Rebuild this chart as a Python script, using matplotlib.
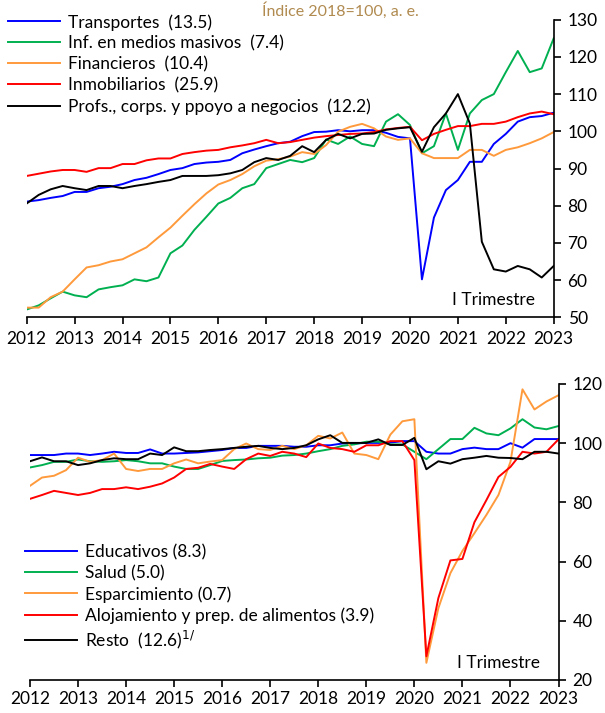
import numpy as np
import matplotlib
matplotlib.use("Agg")
import matplotlib.pyplot as plt

plt.rcParams['font.family'] = ['Lato', 'DejaVu Sans']

# quarterly dates, 2012 Q1 .. 2023 Q1
quarters = 2012 + np.arange(45) / 4
years = list(range(2012, 2024))

# ---- top panel series ----
transportes = [81.1, 81.5, 82.1, 82.6, 83.7, 83.7, 84.7, 85.1, 85.8, 86.9, 87.5, 88.5, 89.6, 90.1, 91.2, 91.6,
               91.8, 92.3, 94.1, 95.1, 96.0, 96.8, 97.2, 98.7, 99.8, 99.9, 100.3, 100.0, 100.3, 100.3,
               99.6, 98.5, 98.1, 60.2, 76.8, 84.2, 86.9, 91.8, 91.8, 96.6, 99.3, 102.6, 103.8, 104.1, 105.0]
medios = [52.1, 53.2, 55.1, 56.9, 55.9, 55.4, 57.5, 58.1, 58.6, 60.2, 59.7, 60.7, 67.2, 69.3, 73.5, 77.0,
          80.6, 82.1, 84.7, 85.8, 90.1, 91.2, 92.3, 91.7, 92.8, 97.8, 96.6, 98.6, 96.6, 96.0,
          102.6, 104.6, 101.7, 94.1, 96.0, 104.8, 95.0, 104.8, 108.4, 110.0, 115.9, 121.6, 115.9, 116.9, 125.0]
financieros = [52.6, 52.6, 55.4, 56.9, 60.2, 63.4, 64.0, 65.0, 65.6, 67.2, 68.8, 71.5, 74.1, 77.3, 80.4, 83.3,
               85.7, 86.9, 88.5, 90.6, 92.1, 92.5, 93.2, 94.4, 93.9, 96.3, 99.9, 101.2, 102.0, 100.8,
               98.6, 97.7, 98.1, 94.1, 92.8, 92.8, 92.8, 95.0, 95.0, 93.4, 95.0, 95.7, 96.8, 98.1, 99.8]
inmobiliarios = [88.0, 88.6, 89.2, 89.6, 89.6, 89.1, 90.1, 90.1, 91.2, 91.2, 92.2, 92.7, 92.7, 93.9, 94.4, 94.8,
                 95.0, 95.7, 96.2, 96.8, 97.7, 96.8, 97.1, 97.7, 98.3, 98.7, 99.0, 99.3, 99.4, 99.8,
                 100.5, 100.9, 101.2, 97.6, 99.3, 100.4, 101.4, 101.4, 102.0, 102.0, 102.6, 103.8, 104.8, 105.3, 104.6]
profs = [80.6, 82.9, 84.4, 85.3, 84.7, 84.2, 85.3, 85.3, 84.7, 85.3, 85.8, 86.4, 86.9, 88.0, 88.0, 88.0,
         88.2, 88.7, 89.6, 91.7, 92.8, 92.3, 93.4, 96.0, 94.4, 97.7, 99.3, 98.1, 99.3, 99.4,
         100.4, 100.8, 101.1, 94.5, 101.1, 104.8, 110.0, 102.1, 70.3, 62.9, 62.3, 63.8, 62.9, 60.7, 63.8]

# ---- bottom panel series ----
educativos = [96.0, 96.0, 96.0, 96.5, 96.5, 96.0, 96.5, 97.1, 96.7, 96.7, 97.9, 96.5, 96.5, 96.7, 96.9, 97.3,
              97.7, 98.4, 98.4, 99.1, 99.1, 99.1, 98.8, 98.8, 99.3, 99.3, 99.9, 99.9, 100.1, 100.1,
              100.2, 100.7, 100.7, 97.1, 96.5, 96.5, 98.0, 98.5, 98.0, 98.0, 100.0, 98.5, 101.4, 101.4, 101.4]
salud = [91.8, 92.6, 93.7, 93.7, 94.5, 93.9, 93.7, 93.9, 94.3, 93.9, 93.2, 93.2, 92.1, 91.3, 91.3, 92.6,
         94.0, 94.3, 94.5, 94.9, 95.1, 95.8, 96.0, 96.5, 97.3, 98.0, 99.1, 99.6, 100.5, 100.5,
         99.6, 99.6, 97.1, 94.6, 98.0, 101.4, 101.4, 105.2, 103.3, 102.7, 105.0, 108.1, 105.3, 104.7, 105.8]
esparcimiento = [85.6, 88.4, 89.0, 90.9, 95.1, 93.7, 94.3, 96.5, 91.3, 90.6, 91.3, 91.3, 93.2, 94.5, 93.2, 93.8,
                 94.3, 98.0, 99.9, 98.0, 97.7, 99.1, 98.0, 99.3, 102.5, 101.6, 103.6, 96.5, 96.0, 94.6,
                 102.9, 107.4, 108.1, 25.8, 44.3, 56.1, 63.6, 69.6, 75.8, 82.5, 93.7, 118.2, 111.4, 114.1, 116.2]
alojamiento = [81.2, 82.5, 83.9, 83.2, 82.5, 83.2, 84.5, 84.5, 85.1, 84.5, 85.3, 86.4, 88.4, 91.3, 91.7, 93.0,
               92.1, 91.3, 94.6, 96.5, 95.7, 97.1, 96.5, 95.3, 99.9, 98.4, 98.0, 97.1, 99.3, 99.3,
               100.7, 100.7, 94.3, 28.0, 47.7, 60.4, 60.9, 73.3, 80.8, 88.6, 92.0, 97.1, 96.5, 97.1, 101.3]
resto = [93.9, 95.2, 93.9, 93.9, 92.6, 93.2, 94.3, 94.9, 94.6, 94.6, 96.5, 96.0, 98.6, 97.3, 97.3, 97.7,
         98.0, 98.4, 98.8, 99.1, 98.4, 98.0, 98.4, 99.3, 101.3, 102.7, 100.1, 100.1, 100.1, 101.3,
         99.4, 99.4, 101.8, 91.2, 93.9, 93.1, 94.6, 95.1, 95.7, 95.1, 95.0, 94.6, 97.1, 97.1, 96.5]

blue, green, orange, red, black = '#0000FF', '#00B050', '#FF9A3C', '#FF0000', '#000000'
lw = 1.4
fs = 12.5

fig = plt.figure(figsize=(6.05, 7.13), dpi=100)

# title (partly hidden at the top edge in the original, kept fully visible here)
fig.text(0.562, 1 - 16 / 713, 'Índice 2018=100, a. e.', ha='center', va='baseline',
         fontsize=11.5, color='#B08A4F')


def style_axis(ax, ymin, ymax, ystep):
    ax.set_xlim(2012, 2023)
    ax.set_ylim(ymin, ymax)
    ax.set_xticks(years)
    ax.set_yticks(range(ymin, ymax + 1, ystep))
    ax.yaxis.tick_right()
    for s in ['left', 'top']:
        ax.spines[s].set_visible(False)
    ax.spines['right'].set_linewidth(1.2)
    ax.spines['bottom'].set_linewidth(1.2)
    ax.tick_params(axis='both', direction='out', length=5, width=1.2, labelsize=fs, pad=5)
    ax.tick_params(axis='x', pad=5)


# top panel
ax1 = fig.add_axes([26.7 / 605, 1 - 317.3 / 713, (553.7 - 26.7) / 605, (317.3 - 19.7) / 713])
ax1.plot(quarters, transportes, color=blue, lw=lw, label='Transportes  (13.5)')
ax1.plot(quarters, medios, color=green, lw=lw, label='Inf. en medios masivos  (7.4)')
ax1.plot(quarters, financieros, color=orange, lw=lw, label='Financieros  (10.4)')
ax1.plot(quarters, inmobiliarios, color=red, lw=lw, label='Inmobiliarios  (25.9)')
ax1.plot(quarters, profs, color=black, lw=lw, label='Profs., corps. y ppoyo a negocios  (12.2)')
style_axis(ax1, 50, 130, 10)
ax1.text(0.965, 0.03, 'I Trimestre', transform=ax1.transAxes, ha='right', va='bottom', fontsize=fs)
fig.legend(*ax1.get_legend_handles_labels(), loc='upper left',
           bbox_to_anchor=(8 / 605, 1 - 14 / 713), frameon=False, fontsize=fs,
           handlelength=3.0, handletextpad=0.45, labelspacing=0.28, borderpad=0, borderaxespad=0)

# bottom panel
ax2 = fig.add_axes([30 / 605, 1 - 680 / 713, (558.5 - 30) / 605, (680 - 384) / 713])
ax2.plot(quarters, educativos, color=blue, lw=lw, label='Educativos (8.3)')
ax2.plot(quarters, salud, color=green, lw=lw, label='Salud (5.0)')
ax2.plot(quarters, esparcimiento, color=orange, lw=lw, label='Esparcimiento (0.7)')
ax2.plot(quarters, alojamiento, color=red, lw=lw, label='Alojamiento y prep. de alimentos (3.9)')
ax2.plot(quarters, resto, color=black, lw=lw, label='Resto  (12.6)$^{1/}$')
style_axis(ax2, 20, 120, 20)
ax2.tick_params(axis='x', pad=3)
ax2.text(0.965, 0.03, 'I Trimestre', transform=ax2.transAxes, ha='right', va='bottom', fontsize=fs)
fig.legend(*ax2.get_legend_handles_labels(), loc='upper left',
           bbox_to_anchor=(25 / 605, 1 - 544 / 713), frameon=False, fontsize=fs,
           handlelength=3.0, handletextpad=0.45, labelspacing=0.28, borderpad=0, borderaxespad=0)

fig.savefig('out.png', dpi=100)
